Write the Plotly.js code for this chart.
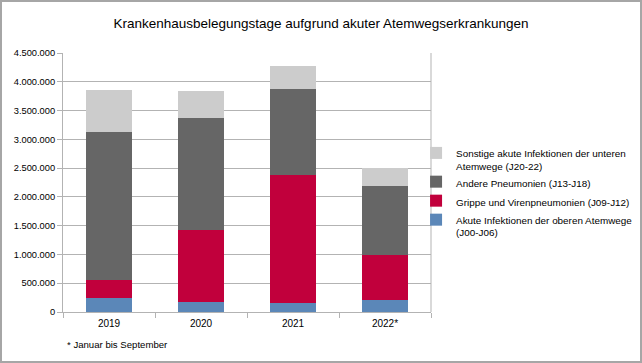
<!DOCTYPE html>
<html>
<head>
<meta charset="utf-8">
<script src="https://cdn.plot.ly/plotly-3.0.1.min.js"></script>
<style>
  html, body { margin: 0; padding: 0; background: #fff; }
  #frame { width: 642px; height: 363px; box-sizing: border-box; border: 2px solid #a6a6a6; overflow: hidden; }
  #chart { width: 638px; height: 359px; }
</style>
</head>
<body>
<div id="frame"><div id="chart"></div></div>
<script>
const years = ["2019", "2020", "2021", "2022*"];
const obereAtemwege = [245000, 180000, 165000, 200000];
const grippe = [317000, 1240000, 2219000, 783000];
const anderePneumonien = [2566000, 1945000, 1483000, 1207000];
const sonstigeUntere = [722000, 480000, 413000, 320000];

const names = [
  "Akute Infektionen der oberen Atemwege<br>(J00-J06)",
  "Grippe und Virenpneumonien (J09-J12)",
  "Andere Pneumonien (J13-J18)",
  "Sonstige akute Infektionen der unteren<br>Atemwege (J20-22)"
];
const colors = ["#5b87b8", "#c1003c", "#666666", "#cccccc"];
const series = [obereAtemwege, grippe, anderePneumonien, sonstigeUntere];

const tickVals = [0, 500000, 1000000, 1500000, 2000000, 2500000, 3000000, 3500000, 4000000, 4500000];
const tickText = ["0", "500.000", "1.000.000", "1.500.000", "2.000.000", "2.500.000", "3.000.000", "3.500.000", "4.000.000", "4.500.000"];

const traces = series.map((vals, i) => ({
  type: "bar",
  x: years,
  y: vals,
  name: names[i],
  marker: { color: colors[i], line: { width: 0 } },
  hoverinfo: "x+y+name"
}));

const layout = {
  barmode: "stack",
  bargap: 0.51,
  width: 638,
  height: 359,
  margin: { l: 61, r: 209, t: 51, b: 48.5, pad: 0, autoexpand: false },
  paper_bgcolor: "#ffffff",
  plot_bgcolor: "#ffffff",
  font: { family: "Liberation Sans, Arial, sans-serif", size: 10, color: "#000000" },
  title: {
    text: "Krankenhausbelegungstage aufgrund akuter Atemwegserkrankungen",
    font: { family: "Liberation Sans, Arial, sans-serif", size: 13.5, color: "#000000" },
    x: 0.5, xref: "container", xanchor: "center",
    y: 0.941, yref: "container", yanchor: "middle"
  },
  xaxis: {
    type: "category",
    tickson: "boundaries",
    ticks: "outside",
    ticklen: 5,
    tickcolor: "#b3b3b3",
    showline: true,
    linecolor: "#b3b3b3",
    linewidth: 1,
    mirror: false,
    showgrid: false,
    ticklabelstandoff: 2,
    tickfont: { size: 10, color: "#000000" },
    fixedrange: true
  },
  yaxis: {
    range: [0, 4500000],
    tickvals: tickVals,
    ticktext: tickText,
    ticks: "outside",
    ticklen: 5,
    tickcolor: "#b3b3b3",
    showline: true,
    linecolor: "#b3b3b3",
    linewidth: 1,
    showgrid: true,
    gridcolor: "#b3b3b3",
    gridwidth: 1,
    zeroline: false,
    tickfont: { size: 9.3, color: "#000000" },
    fixedrange: true
  },
  shapes: [{
    type: "line", xref: "paper", yref: "paper",
    x0: 1, x1: 1, y0: 0, y1: 1,
    line: { color: "#b3b3b3", width: 1 }
  }],
  legend: {
    xref: "container", yref: "container",
    x: 0.649, xanchor: "left",
    y: 0.468, yanchor: "middle",
    traceorder: "reversed",
    valign: "top",
    font: { size: 9.9, color: "#000000" },
    bgcolor: "rgba(0,0,0,0)",
    itemwidth: 30,
    tracegroupgap: 0
  },
  annotations: [{
    text: "* Januar bis September",
    xref: "paper", yref: "paper",
    x: 0.005, y: -0.125, xanchor: "left", yanchor: "middle",
    showarrow: false,
    font: { size: 9.6, color: "#000000" }
  }]
};

Plotly.newPlot("chart", traces, layout, { displayModeBar: false, staticPlot: true });
</script>
</body>
</html>
